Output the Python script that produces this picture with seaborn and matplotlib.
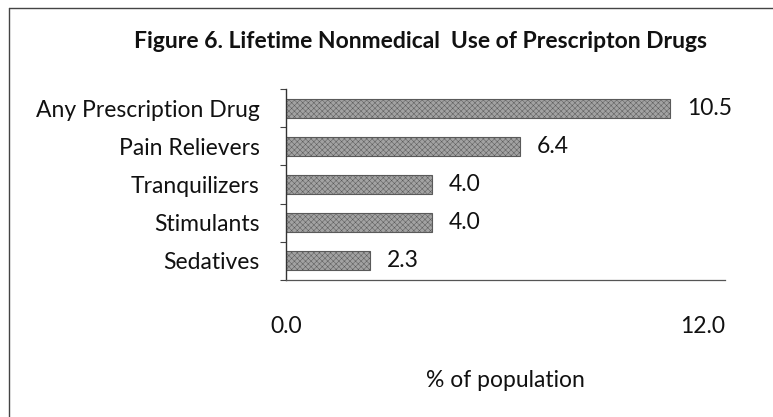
import matplotlib
matplotlib.use("Agg")
import matplotlib.pyplot as plt
from matplotlib.lines import Line2D
import seaborn as sns
import pandas as pd

categories = ["Any Prescription Drug", "Pain Relievers", "Tranquilizers", "Stimulants", "Sedatives"]
values = [10.5, 6.4, 4.0, 4.0, 2.3]
value_labels = ["10.5", "6.4", "4.0", "4.0", "2.3"]
x_ticks = [0.0, 12.0]
x_tick_labels = ["0.0", "12.0"]
title = "Figure 6. Lifetime Nonmedical  Use of Prescripton Drugs"
xlabel = "% of population"

sns.set_theme(style="white")
plt.rcParams["font.family"] = ["Lato", "DejaVu Sans"]
plt.rcParams["hatch.linewidth"] = 0.35

df = pd.DataFrame({"cat": categories, "val": values})

fig = plt.figure(figsize=(7.73, 4.17), dpi=100)
ax = fig.add_axes([286/773, 1-280/417, (725-286)/773, (280-89)/417])

sns.barplot(data=df, x="val", y="cat", orient="h", color="#a2a2a2", width=0.5,
            edgecolor="#5a5a5a", linewidth=0.8, ax=ax)
for p in ax.patches:
    p.set_hatch("xxxxxx")

ax.set_xlim(0, 12)
ax.set_ylim(4.5, -0.5)

fs = 16.5
for i, (v, lab) in enumerate(zip(values, value_labels)):
    ax.annotate(lab, (v, i), xytext=(12, 0), textcoords="offset points",
                ha="left", va="center", fontsize=fs, color="#111111")

ax.set_xticks(x_ticks)
ax.set_xticklabels(x_tick_labels, fontsize=fs, color="#111111")
ax.tick_params(axis="x", length=0, pad=26)
ax.get_xticklabels()[1].set_ha("right")

ax.set_yticks(range(len(categories)))
ax.set_yticklabels(categories, fontsize=fs, color="#111111")
ax.tick_params(axis="y", which="major", length=0, pad=19)
ax.set_yticks([-0.5 + k for k in range(len(categories) + 1)], minor=True)
ax.tick_params(axis="y", which="minor", length=4, width=0.8, color="#444444", left=True)

ax.set_xlabel(xlabel, fontsize=fs, color="#111111", labelpad=24)
ax.set_ylabel("")

for s in ["top", "right"]:
    ax.spines[s].set_visible(False)
ax.spines["left"].set_color("#333333")
ax.spines["left"].set_linewidth(1.0)
ax.spines["bottom"].set_color("#555555")
ax.spines["bottom"].set_linewidth(0.9)

fig.text(420/773, 1-42/417, title, ha="center", va="center", fontsize=16.5,
         fontweight="bold", color="#111111")

# outer frame (left and top edges visible in reference)
fig.add_artist(Line2D([9/773, 9/773], [0, 1-8/417], transform=fig.transFigure, color="#444444", lw=1))
fig.add_artist(Line2D([9/773, 1], [1-8/417, 1-8/417], transform=fig.transFigure, color="#444444", lw=1))

fig.savefig("out.png", dpi=100)
